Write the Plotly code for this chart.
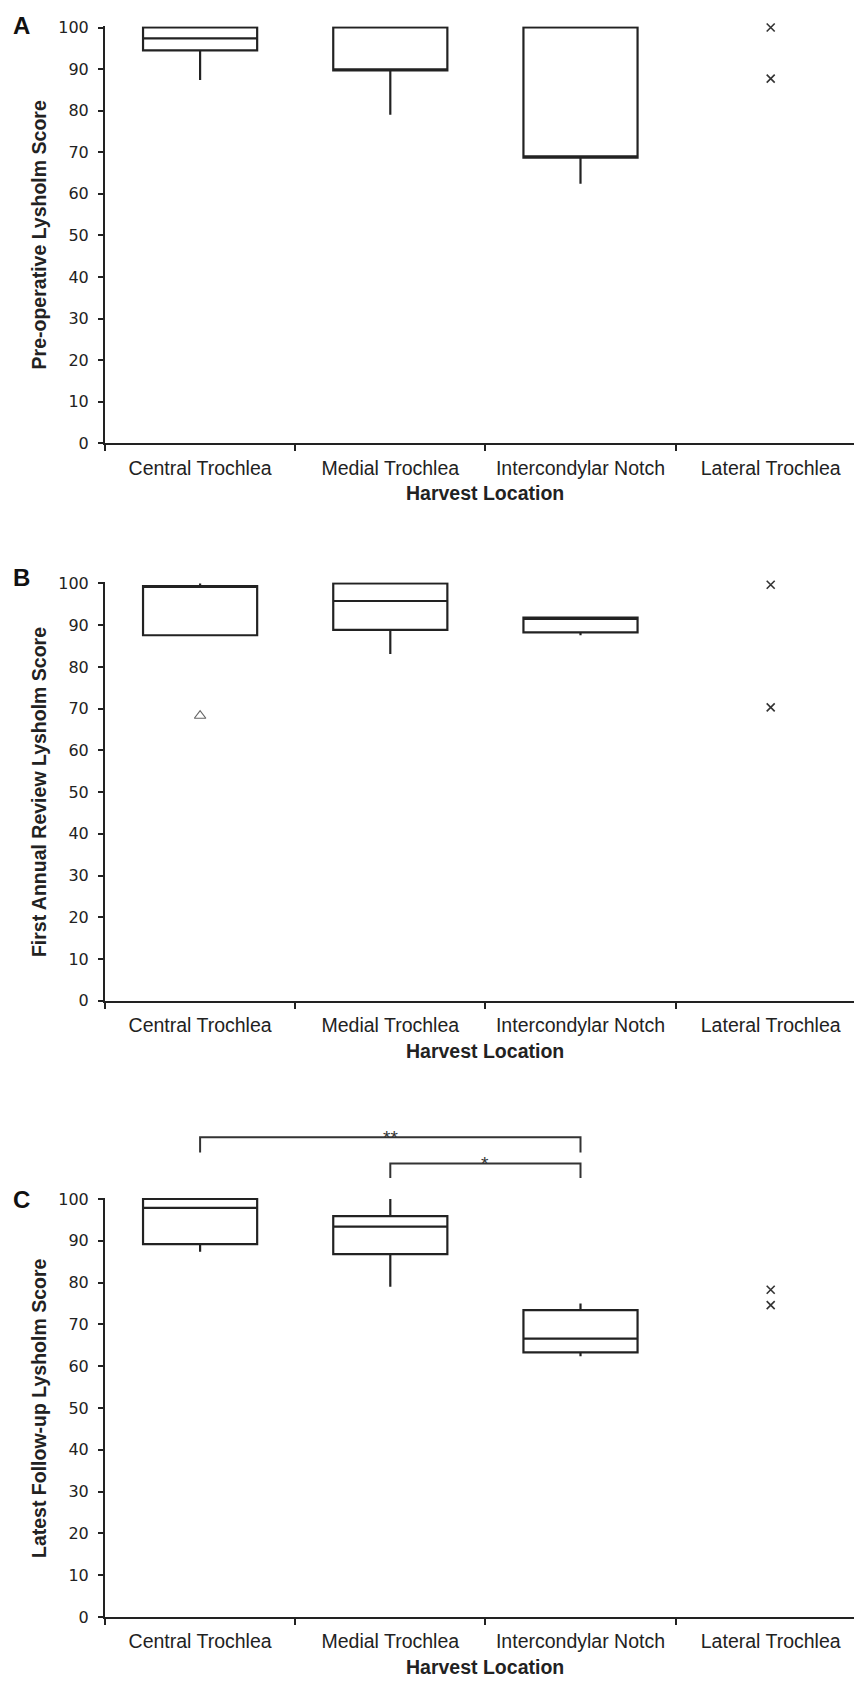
import plotly.graph_objects as go

# ---------------- data ----------------
categories = ["Central Trochlea", "Medial Trochlea", "Intercondylar Notch", "Lateral Trochlea"]
box_categories = ["Central Trochlea", "Medial Trochlea", "Intercondylar Notch"]
x_title = "Harvest Location"
y_titles = ["Pre-operative Lysholm Score",
            "First Annual Review Lysholm Score",
            "Latest Follow-up Lysholm Score"]
panel_letters = ["A", "B", "C"]
y_tick_values = [0, 10, 20, 30, 40, 50, 60, 70, 80, 90, 100]

# Panel A - pre-operative
pre_lower = [87.4, 79.0, 62.4]
pre_q1 = [94.5, 89.7, 68.7]
pre_median = [97.4, 89.9, 69.0]
pre_q3 = [100.0, 100.0, 100.0]
pre_upper = [100.0, 100.0, 100.0]
pre_lateral = [100.0, 87.7]

# Panel B - first annual review
first_lower = [87.6, 83.1, 87.6]
first_q1 = [87.6, 88.9, 88.3]
first_median = [99.3, 95.8, 91.5]
first_q3 = [99.4, 100.0, 91.8]
first_upper = [100.0, 100.0, 91.8]
first_lateral = [99.7, 70.3]
first_outlier_central = [68.3]

# Panel C - latest follow-up
latest_lower = [87.4, 79.0, 62.4]
latest_q1 = [89.2, 86.8, 63.3]
latest_median = [97.9, 93.4, 66.6]
latest_q3 = [100.0, 95.9, 73.4]
latest_upper = [100.0, 100.0, 75.0]
latest_lateral = [78.3, 74.6]

# significance brackets (panel C)
bracket_from = ["Central Trochlea", "Medial Trochlea"]
bracket_to = ["Intercondylar Notch", "Intercondylar Notch"]
bracket_level = [114.8, 108.5]
bracket_end = [111.1, 105.0]
bracket_label = ["**", "*"]

# ---------------- layout constants ----------------
OFF = 8                      # page body margin
W, H = 862 - OFF, 1682 - OFF
L = 105 - OFF
CAT_PX = 190.2
INK = "#222222"
# (page pixel of value 0, page pixel of value 100)
panel_px = [(443.3 - OFF, 27.5 - OFF), (1000.7 - OFF, 583.5 - OFF), (1617.0 - OFF, 1199.0 - OFF)]
letter_shift = [2.5, 5.5, -1.0]
YTOP = 100.3
x_range = [-0.5, -0.5 + (W - L) / CAT_PX]

panels = [
    dict(lower=pre_lower, q1=pre_q1, med=pre_median, q3=pre_q3, upper=pre_upper, lat=pre_lateral),
    dict(lower=first_lower, q1=first_q1, med=first_median, q3=first_q3, upper=first_upper, lat=first_lateral),
    dict(lower=latest_lower, q1=latest_q1, med=latest_median, q3=latest_q3, upper=latest_upper, lat=latest_lateral),
]

fig = go.Figure()
box_x = [categories.index(c) for c in box_categories]
lat_x = categories.index("Lateral Trochlea")

annotations = []
layout_axes = {}
for i, p in enumerate(panels):
    sfx = "" if i == 0 else str(i + 1)
    xa, ya = "x" + sfx, "y" + sfx
    fig.add_trace(go.Box(
        x=box_x, q1=p["q1"], median=p["med"], q3=p["q3"],
        lowerfence=p["lower"], upperfence=p["upper"],
        width=0.6, whiskerwidth=0, boxpoints=False,
        line=dict(color=INK, width=2.2), fillcolor="white",
        hoverinfo="skip", showlegend=False, xaxis=xa, yaxis=ya))
    fig.add_trace(go.Scatter(
        x=[lat_x] * len(p["lat"]), y=p["lat"], mode="markers",
        marker=dict(symbol="x-thin", size=8, line=dict(color="#333333", width=1.6)),
        showlegend=False, hoverinfo="skip", cliponaxis=False, xaxis=xa, yaxis=ya))
    if i == 1:
        fig.add_trace(go.Scatter(
            x=[categories.index("Central Trochlea")] * len(first_outlier_central),
            y=first_outlier_central, mode="markers",
            marker=dict(symbol="triangle-up-open", size=10, color="#666666", line=dict(width=1.2)),
            showlegend=False, hoverinfo="skip", xaxis=xa, yaxis=ya))

    px0, px100 = panel_px[i]
    scale = (px0 - px100) / 100.0
    top_px = px100 - (YTOP - 100) * scale
    layout_axes["yaxis" + sfx] = dict(
        domain=[1 - px0 / H, 1 - top_px / H], range=[0, YTOP], anchor=xa, automargin=False,
        tickvals=y_tick_values, ticks="outside", ticklen=5, tickwidth=2, tickcolor=INK,
        showline=True, linewidth=2, linecolor=INK, showgrid=False, zeroline=False,
        tickfont=dict(family="DejaVu Sans", size=16, color=INK), ticklabelstandoff=6)
    layout_axes["xaxis" + sfx] = dict(
        domain=[0, 1], range=x_range, anchor=ya, automargin=False,
        tickvals=list(range(len(categories))), ticktext=categories, ticks="",
        minor=dict(ticks="outside", ticklen=6, tickwidth=2, tickcolor=INK,
                   tick0=-0.5, dtick=1, showgrid=False),
        showline=True, linewidth=2, linecolor=INK, showgrid=False, zeroline=False,
        tickfont=dict(family="Liberation Sans", size=19.5, color=INK), ticklabelstandoff=6)

    annotations.append(dict(text=x_title, xref=xa, x=1.5, yref=ya + " domain", y=0, yshift=-50,
                            xanchor="center", yanchor="middle", showarrow=False,
                            font=dict(family="Liberation Sans", size=19.5, color=INK, weight="bold")))
    annotations.append(dict(text=y_titles[i], xref=xa + " domain", x=0, xshift=-66,
                            yref=ya + " domain", y=(100 / YTOP) / 2, textangle=-90,
                            xanchor="center", yanchor="middle", showarrow=False,
                            font=dict(family="Liberation Sans", size=19.5, color=INK, weight="bold")))
    annotations.append(dict(text=panel_letters[i], xref=xa + " domain", x=0, xshift=-83.5,
                            yref=ya, y=100, yshift=letter_shift[i],
                            xanchor="center", yanchor="middle", showarrow=False,
                            font=dict(family="Liberation Sans", size=24, color="#111111", weight="bold")))

# bracket axis above panel C (same scale as panel C)
px0, px100 = panel_px[2]
scale = (px0 - px100) / 100.0
top_px = px100 - (YTOP - 100) * scale
br_top_px = 1100 - OFF
layout_axes["yaxis4"] = dict(domain=[1 - top_px / H, 1 - br_top_px / H],
                             range=[YTOP, YTOP + (top_px - br_top_px) / scale],
                             anchor="x3", visible=False, automargin=False)
for a, b, lvl, end, lab in zip(bracket_from, bracket_to, bracket_level, bracket_end, bracket_label):
    xa_, xb_ = categories.index(a), categories.index(b)
    fig.add_trace(go.Scatter(x=[xa_, xa_, xb_, xb_], y=[end, lvl, lvl, end], mode="lines",
                             line=dict(color="#333333", width=2), showlegend=False,
                             hoverinfo="skip", xaxis="x3", yaxis="y4"))
    annotations.append(dict(text=lab, xref="x3", x=(xa_ + xb_) / 2, yref="y4", y=lvl,
                            xanchor="center", yanchor="middle", showarrow=False,
                            font=dict(family="Liberation Sans", size=19, color="#333333")))

fig.update_layout(width=W, height=H, margin=dict(l=L, r=0, t=0, b=0, autoexpand=False),
                  paper_bgcolor="white", plot_bgcolor="white", showlegend=False,
                  annotations=annotations, **layout_axes)

fig.write_html("out.html")
